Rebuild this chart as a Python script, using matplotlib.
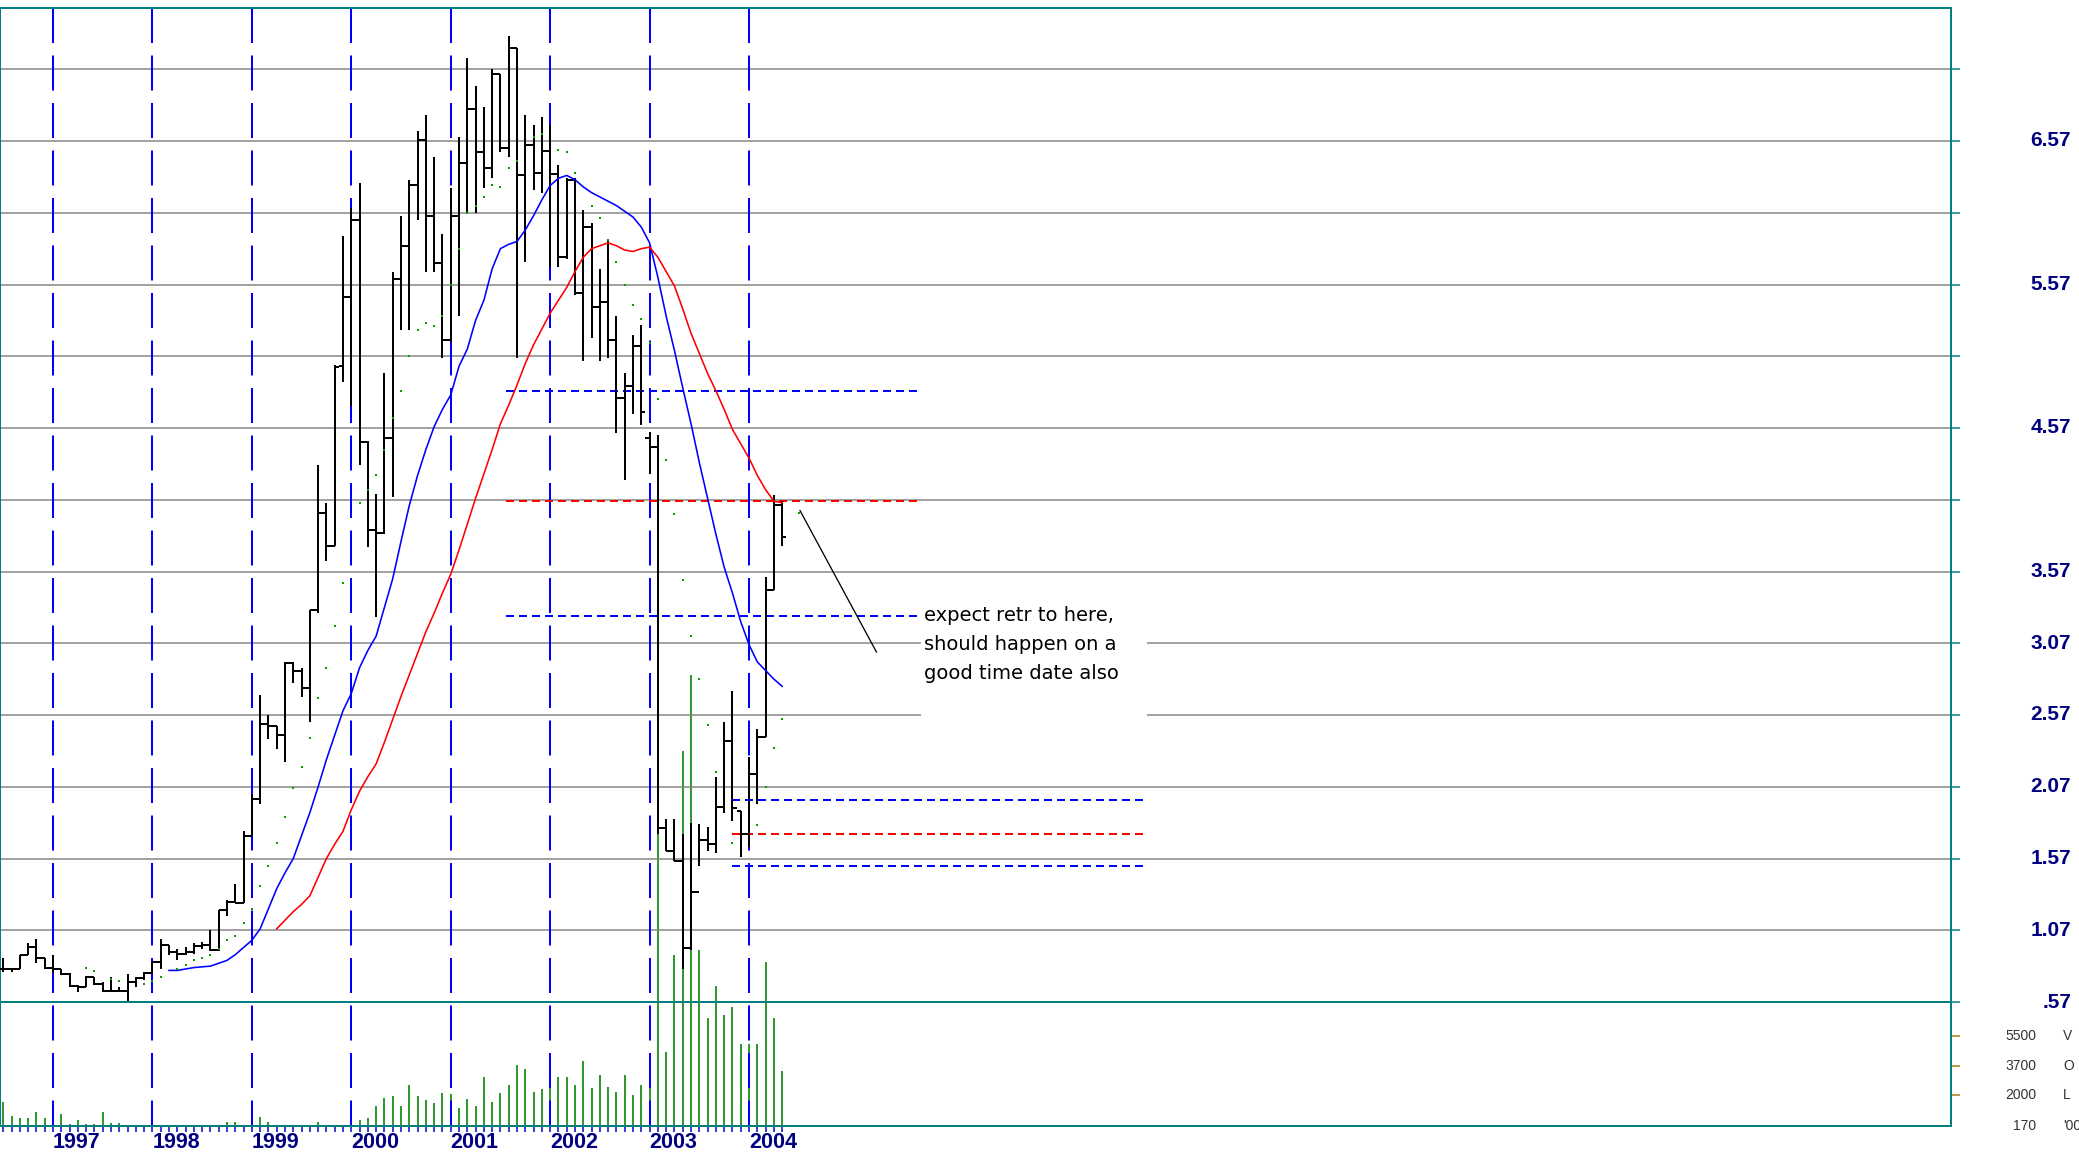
import numpy as np
import pandas as pd
import matplotlib
matplotlib.use('Agg')
import matplotlib.pyplot as plt
from matplotlib import transforms
from matplotlib.patches import Rectangle

plt.rcParams['lines.scale_dashes'] = False
plt.rcParams['font.family'] = ['DejaVu Sans']

# ---------------- data ----------------
months = pd.period_range('1996-06', '2004-04', freq='M')

opens = [0.80, 0.80, 0.80, 0.90, 0.95, 0.88, 0.81,
         0.80, 0.763, 0.68, 0.675, 0.744, 0.698, 0.65, 0.65, 0.65, 0.71, 0.74, 0.77,
         0.85, 0.97, 0.918, 0.907, 0.918, 0.958, 0.965, 0.93, 1.21, 1.27, 1.26, 1.73,
         1.985, 2.51, 2.49, 2.43, 2.93, 2.88, 2.755, 3.30, 3.975, 3.75, 5.00, 5.48,
         6.02, 4.47, 3.86, 3.84, 4.50, 5.61, 5.84, 6.26, 6.58, 6.05, 5.72, 5.18,
         6.05, 6.42, 6.79, 6.49, 6.38, 7.04, 6.52, 7.22, 6.33, 6.54, 6.35, 6.50,
         6.34, 5.76, 6.30, 5.51, 5.97, 5.41, 5.45, 5.18, 4.78, 4.86, 5.14, 4.50,
         4.44, 1.785, 1.62, 1.55, 0.949, 1.34, 1.70, 1.67, 1.93, 2.39, 1.90, 1.74,
         2.16, 2.42, 3.44, 4.03]
highs = [0.88, 0.81, 0.90, 0.98, 1.01, 0.88, 0.895,
         0.80, 0.77, 0.686, 0.749, 0.744, 0.71, 0.744, 0.675, 0.763, 0.744, 0.78, 0.85,
         1.01, 0.97, 0.94, 0.953, 0.98, 0.988, 1.07, 1.21, 1.28, 1.39, 1.76, 2.02,
         2.71, 2.57, 2.49, 2.94, 2.94, 2.90, 3.30, 4.31, 4.05, 5.01, 5.91, 6.10,
         6.28, 4.48, 4.11, 4.95, 5.66, 6.05, 6.30, 6.64, 6.75, 6.46, 5.92, 6.24,
         6.60, 7.15, 6.95, 6.81, 7.07, 7.04, 7.30, 7.22, 6.75, 6.68, 6.74, 6.68,
         6.40, 6.31, 6.31, 6.09, 6.00, 5.68, 5.87, 5.35, 4.95, 5.22, 5.29, 4.54,
         4.52, 1.845, 1.845, 1.74, 1.82, 1.81, 1.79, 2.14, 2.52, 2.74, 1.90, 2.28,
         2.47, 3.53, 4.10, 4.06]
lows = [0.78, 0.78, 0.80, 0.895, 0.84, 0.80, 0.77,
        0.756, 0.675, 0.64, 0.675, 0.69, 0.64, 0.64, 0.64, 0.575, 0.675, 0.72, 0.77,
        0.80, 0.895, 0.86, 0.895, 0.907, 0.942, 0.925, 0.925, 1.17, 1.26, 1.26, 1.73,
        1.95, 2.40, 2.335, 2.24, 2.79, 2.695, 2.52, 3.28, 3.64, 3.75, 4.89, 4.72,
        4.31, 3.74, 3.25, 3.83, 4.09, 5.25, 5.25, 6.02, 5.66, 5.66, 5.06, 5.17,
        5.35, 6.07, 6.07, 6.24, 6.31, 6.49, 6.46, 5.06, 5.73, 6.23, 6.21, 5.69,
        5.69, 5.75, 5.50, 5.04, 5.20, 5.04, 5.06, 4.535, 4.21, 4.67, 4.59, 4.25,
        1.74, 1.62, 1.55, 0.80, 0.93, 1.52, 1.62, 1.61, 1.89, 1.83, 1.58, 1.65,
        1.95, 2.42, 3.44, 3.75]
closes = [0.80, 0.80, 0.90, 0.95, 0.88, 0.81, 0.80,
          0.763, 0.68, 0.675, 0.744, 0.698, 0.65, 0.65, 0.65, 0.71, 0.74, 0.77, 0.85,
          0.97, 0.918, 0.907, 0.918, 0.958, 0.965, 0.93, 1.21, 1.27, 1.26, 1.73, 1.985,
          2.51, 2.49, 2.43, 2.93, 2.88, 2.755, 3.30, 3.975, 3.75, 4.995, 5.48, 6.02,
          4.47, 3.86, 3.84, 4.50, 5.61, 5.84, 6.26, 6.58, 6.05, 5.72, 5.18, 6.05,
          6.42, 6.79, 6.49, 6.38, 7.04, 6.52, 7.22, 6.33, 6.54, 6.35, 6.50, 6.34,
          5.76, 6.30, 5.51, 5.97, 5.41, 5.45, 5.18, 4.78, 4.86, 5.14, 4.68, 4.44,
          1.785, 1.62, 1.55, 0.949, 1.34, 1.70, 1.67, 1.93, 2.39, 1.92, 1.74, 2.16,
          2.42, 3.44, 4.03, 3.81]
volume = [1600, 760, 630, 630, 1020, 630, 300,
          880, 290, 525, 290, 290, 1020, 365, 365, 230, 230, 230, 230,
          230, 230, 230, 230, 230, 230, 230, 230, 407, 407, 230, 230,
          720, 407, 230, 230, 230, 230, 230, 407, 230, 230, 230, 230,
          525, 626, 1354, 1845, 1964, 1354, 2597, 1964, 1709, 1532, 2124, 2064,
          1236, 1768, 1354, 3071, 1609, 2141, 2597, 3781, 3544, 2201, 2360, 2597,
          3089, 3071, 2597, 4036, 2420, 3189, 2497, 2201, 3189, 2005, 2597, 3385,
          17700, 4569, 10293, 22370, 26869, 10589, 6564, 8458, 6741, 7233, 5024, 5024,
          5024, 9897, 6564, 3444]

ma_short_months = pd.period_range('1998-02', '2004-04', freq='M')
ma_short = [0.79, 0.79, 0.80, 0.81, 0.815, 0.82, 0.84, 0.86, 0.90, 0.95, 1.00,
            1.08, 1.22, 1.36, 1.47, 1.57, 1.73, 1.89, 2.07, 2.26, 2.43, 2.60, 2.72,
            2.90, 3.02, 3.12, 3.32, 3.52, 3.78, 4.03, 4.24, 4.42, 4.58, 4.70, 4.80,
            5.00, 5.12, 5.32, 5.46, 5.68, 5.82, 5.85, 5.87, 5.95, 6.05, 6.16, 6.26,
            6.31, 6.33, 6.30, 6.25, 6.21, 6.18, 6.15, 6.12, 6.08, 6.04, 5.97, 5.86,
            5.62, 5.35, 5.11, 4.85, 4.60, 4.33, 4.08, 3.83, 3.60, 3.42, 3.22, 3.06,
            2.94, 2.88, 2.82, 2.77]
ma_long_months = pd.period_range('1999-03', '2004-04', freq='M')
ma_long = [1.08, 1.14, 1.20, 1.25, 1.31, 1.44, 1.57, 1.67, 1.76, 1.91, 2.04,
           2.14, 2.23, 2.38, 2.54, 2.70, 2.85, 3.00, 3.15, 3.28, 3.42, 3.55, 3.72,
           3.90, 4.08, 4.25, 4.42, 4.60, 4.73, 4.87, 5.02, 5.15, 5.26, 5.37, 5.46,
           5.55, 5.66, 5.76, 5.82, 5.84, 5.86, 5.84, 5.81, 5.80, 5.82, 5.83, 5.76,
           5.66, 5.56, 5.40, 5.23, 5.09, 4.95, 4.83, 4.70, 4.56, 4.46, 4.36, 4.24,
           4.14, 4.06, 4.05]

dot_months = ['1997-04', '1997-05', '1997-07', '1997-08', '1997-11', '1997-12',
              '1998-01', '1998-03', '1998-04', '1998-05', '1998-06', '1998-07',
              '1998-08', '1998-09', '1998-10', '1998-11', '1998-12', '1999-01',
              '1999-02', '1999-03', '1999-04', '1999-05', '1999-06', '1999-07',
              '1999-08', '1999-09', '1999-10', '1999-11', '2000-01', '2000-02',
              '2000-03', '2000-04', '2000-05', '2000-06', '2000-07', '2000-08',
              '2000-09', '2000-10', '2000-11', '2000-12', '2001-01', '2001-02',
              '2001-03', '2001-04', '2001-05', '2001-06', '2001-07', '2001-08',
              '2001-10', '2001-11', '2002-01', '2002-02', '2002-03', '2002-05',
              '2002-06', '2002-07', '2002-08', '2002-09', '2002-10', '2002-11',
              '2002-12', '2003-01', '2003-02', '2003-03', '2003-04', '2003-05',
              '2003-06', '2003-07', '2003-08', '2003-10', '2004-01', '2004-02',
              '2004-03', '2004-04', '2004-06']
dot_values = [0.807, 0.786, 0.728, 0.714, 0.698, 0.714,
              0.744, 0.80, 0.83, 0.86, 0.877, 0.90,
              0.94, 1.004, 1.03, 1.12, 1.22, 1.38,
              1.518, 1.68, 1.86, 2.06, 2.21, 2.41,
              2.69, 2.90, 3.19, 3.49, 4.05, 4.14,
              4.24, 4.42, 4.64, 4.83, 5.07, 5.25,
              5.30, 5.28, 5.35, 5.57, 5.82, 6.07,
              6.12, 6.18, 6.26, 6.25, 6.38, 6.43,
              6.60, 6.62, 6.51, 6.49, 6.35, 6.12,
              6.03, 5.88, 5.73, 5.57, 5.43, 5.33,
              5.16, 4.77, 4.35, 3.97, 3.51, 3.12,
              2.82, 2.50, 2.17, 1.68, 1.80, 2.07,
              2.34, 2.54, 3.98]

years = [1997, 1998, 1999, 2000, 2001, 2002, 2003, 2004]
grid_levels = [7.07, 6.57, 6.07, 5.57, 5.07, 4.57, 4.07, 3.57, 3.07, 2.57, 2.07, 1.57, 1.07]
base_level = 0.57
price_labels = ['6.57', '5.57', '4.57', '3.57', '3.07', '2.57', '2.07', '1.57', '1.07', '.57']
price_label_values = [6.57, 5.57, 4.57, 3.57, 3.07, 2.57, 2.07, 1.57, 1.07, 0.57]
vol_labels = ['5500', '3700', '2000', '170']
vol_label_values = [5500, 3700, 2000, 170]
vol_letters = ['V', 'O', 'L', "'00"]

# annotation levels (price) and spans (month index)
upper_levels = [4.83, 4.06, 3.26]
upper_colors = ['#0000ff', '#ff0000', '#0000ff']
upper_span = (54.67, 104.63)
lower_levels = [1.98, 1.74, 1.52]
lower_colors = ['#0000ff', '#ff0000', '#0000ff']
lower_span = (81.95, 132.03)
pointer_t = [90.15, 99.38]
pointer_p = [3.995, 3.009]
note_lines = ['expect retr to here,', 'should happen on a', 'good time date also']

# ---------------- helpers ----------------
def mpos(p):
    p = pd.Period(p, freq='M')
    return (p.year - 1997) * 12 + p.month

x = np.array([mpos(m) for m in months], dtype=float)
xs = np.array([mpos(m) for m in ma_short_months], dtype=float)
xl = np.array([mpos(m) for m in ma_long_months], dtype=float)
xd = np.array([mpos(m) for m in dot_months], dtype=float)

W, H = 2079, 1157
PX = 72.0 / 100.0  # points per pixel at dpi 100
fig = plt.figure(figsize=(W / 100, H / 100), dpi=100, facecolor='white')

left_px, right_px, top_px, bot_px = 0, 1951, 8, 1126
rect = [left_px / W, (H - bot_px) / H, (right_px - left_px) / W, (bot_px - top_px) / H]

axv = fig.add_axes(rect, zorder=0)
ax = fig.add_axes(rect, zorder=1)
ax.patch.set_visible(False)

ppm = 8.286  # px per month
xlim = ((left_px - 53) / ppm, (right_px - 53) / ppm)
ppu = 143.5  # px per price unit
ylim = (0.57 - (bot_px - 1002) / ppu, 0.57 + (1002 - top_px) / ppu)
ax.set_xlim(*xlim)
ax.set_ylim(*ylim)
axv.set_xlim(*xlim)
vpp = 59.2  # volume per px
axv.set_ylim(170, 170 + (bot_px - top_px) * vpp)

teal = '#008080'
navy = '#000080'

# frame
for s in ax.spines.values():
    s.set_color(teal)
    s.set_linewidth(2 * PX)
for s in axv.spines.values():
    s.set_visible(False)

# grid lines
for g in grid_levels:
    ax.axhline(g, color='#858585', lw=1.5 * PX, zorder=1)
ax.axhline(base_level, color=teal, lw=2 * PX, zorder=1)

# volume bars
axv.vlines(x, 170, volume, color='#008000', lw=1.6 * PX)
axv.set_xticks([])
axv.set_yticks([2000, 3700, 5500])
axv.tick_params(axis='y', left=False, right=True, labelleft=False, labelright=False,
                direction='out', length=9 * PX, width=1.5 * PX, color='#b07810')

# year lines
for yr in years:
    t = (yr - 1997) * 12
    ax.plot([t, t], [ylim[1], ylim[0]], color='#0000ff', lw=2 * PX,
            dashes=(35 * PX, 12.5 * PX), zorder=2)

# price bars
tick = 0.5
ax.vlines(x, lows, highs, color='black', lw=2 * PX, zorder=4)
ax.hlines(opens, x - tick, x, color='black', lw=2 * PX, zorder=4)
ax.hlines(closes, x, x + tick, color='black', lw=2 * PX, zorder=4)

# moving averages
ax.plot(xs, ma_short, color='#0000ff', lw=1.6 * PX, zorder=5)
ax.plot(xl, ma_long, color='#ff0000', lw=1.6 * PX, zorder=5)

# dots
ax.plot(xd, dot_values, ls='none', marker='s', ms=2 * PX, mew=0, color='#00a000', zorder=6)

# annotation dashed levels
for lv, c in zip(upper_levels, upper_colors):
    ax.plot(upper_span, [lv, lv], color=c, lw=2 * PX, dashes=(8 * PX, 5 * PX), zorder=3)
for lv, c in zip(lower_levels, lower_colors):
    ax.plot(lower_span, [lv, lv], color=c, lw=2 * PX, dashes=(8 * PX, 5 * PX), zorder=3)

# white box behind note
box_t0 = (921 - 53) / ppm
box_t1 = (1147 - 53) / ppm
box_p0 = 0.57 + (1002 - 730) / ppu
box_p1 = 0.57 + (1002 - 600) / ppu
ax.add_patch(Rectangle((box_t0, box_p0), box_t1 - box_t0, box_p1 - box_p0,
                       facecolor='white', edgecolor='none', zorder=7))
ax.plot(pointer_t, pointer_p, color='black', lw=1.3 * PX, zorder=7)
note_t = (923.7 - 53) / ppm
note_p = 0.57 + (1002 - 615.7) / ppu
for i, line in enumerate(note_lines):
    tr = transforms.offset_copy(ax.transData, fig=fig, x=0, y=-29 * PX * i, units='points')
    ax.text(note_t, note_p, line, transform=tr, ha='left', va='center',
            fontsize=14, color='black', family='DejaVu Sans', zorder=8)

# ticks
ax.set_xticks(x)
ax.tick_params(axis='x', bottom=True, top=False, labelbottom=False, direction='out',
               length=6 * PX, width=1.5 * PX, color='#0000c0')
ax.set_yticks(grid_levels + [base_level])
ax.tick_params(axis='y', left=False, right=True, labelleft=False, labelright=False,
               direction='out', length=9 * PX, width=1.5 * PX, color=teal)

# labels
tr_year = transforms.blended_transform_factory(ax.transData, fig.transFigure)
for yr in years:
    ax.text((yr - 1997) * 12, (H - 1142) / H, str(yr), transform=tr_year, ha='left',
            va='center', fontsize=15.5, fontweight='bold', color=navy,
            family='Liberation Sans', clip_on=False)

tr_price = transforms.blended_transform_factory(fig.transFigure, ax.transData)
for lab, v in zip(price_labels, price_label_values):
    ax.text(2071 / W, v, lab, transform=tr_price, ha='right', va='center',
            fontsize=15, fontweight='bold', color=navy, family='Liberation Sans',
            clip_on=False)

tr_vol = transforms.blended_transform_factory(fig.transFigure, axv.transData)
for lab, v, let in zip(vol_labels, vol_label_values, vol_letters):
    axv.text(2036 / W, v, lab, transform=tr_vol, ha='right', va='center',
             fontsize=10, color='#333333', family='Liberation Sans', clip_on=False)
    axv.text(2063 / W, v, let, transform=tr_vol, ha='left', va='center',
             fontsize=10, color='#333333', family='Liberation Sans', clip_on=False)

fig.savefig('out.png', dpi=100, facecolor='white')
